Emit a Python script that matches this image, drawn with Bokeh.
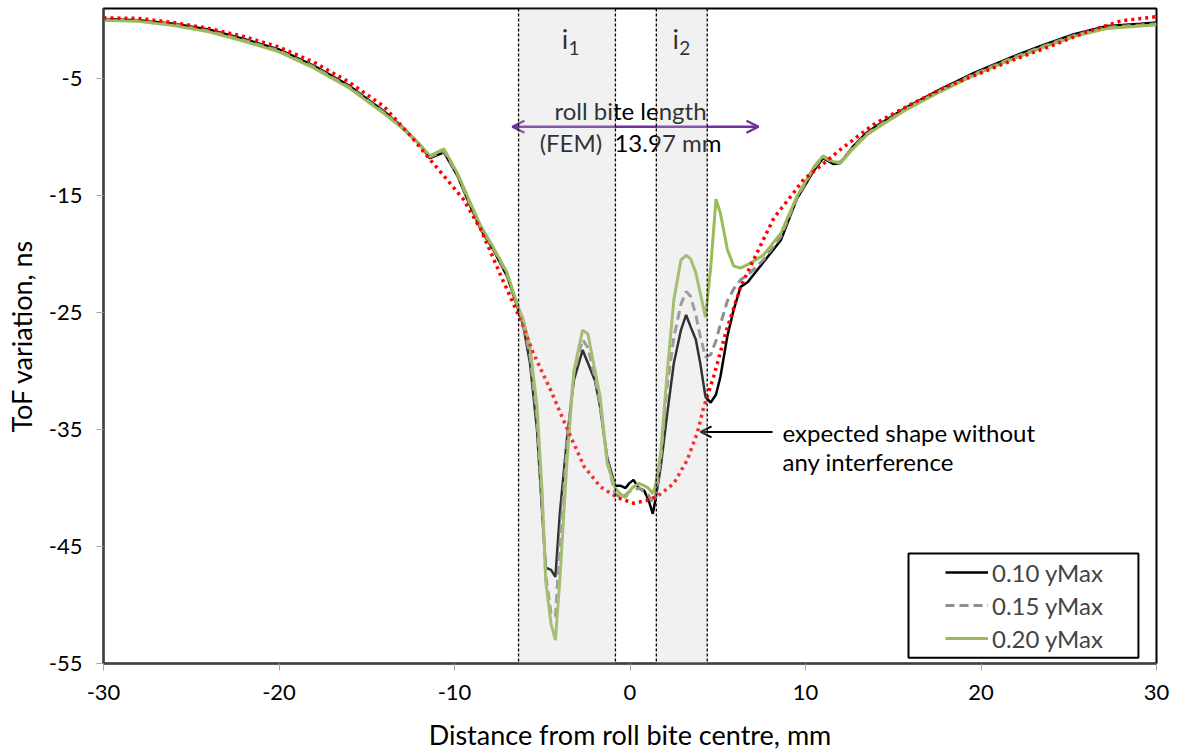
from bokeh.plotting import figure
from bokeh.models import (Span, BoxAnnotation, Arrow, OpenHead, Label, Legend,
                          LegendItem, FixedTicker, Range1d)
from bokeh.embed import file_html
from bokeh.resources import INLINE

# ---- data ----
x_meas = [-30, -28, -26, -24, -22, -20, -18, -16, -14, -13, -12, -11.4, -10.6, -9.8,
          -9.1, -8.5, -7.8, -7.0, -6.4, -6.1, -5.7, -5.3, -5.0, -4.8, -4.5, -4.25, -4.0,
          -3.6, -3.2, -2.7, -2.4, -2.0, -1.7, -1.3, -0.85, -0.55, -0.25, -0.05, 0.2, 0.5,
          0.8, 1.05, 1.3, 1.45, 1.75, 2.1, 2.5, 2.9, 3.2, 3.45, 3.75, 4.0, 4.3, 4.6, 4.9,
          5.15, 5.55, 5.9, 6.3, 6.7, 7.6, 8.6, 9.5, 10.5, 11.0, 11.6, 12.0, 12.7, 13.5,
          14.3, 15.8, 17.7, 19.6, 21.5, 23.4, 25.3, 27.2, 29.1, 30]

tof_010 = [0.1, 0.0, -0.3, -0.8, -1.6, -2.5, -3.9, -5.6, -7.8, -9.1, -10.6, -11.8, -11.3, -13.4,
           -15.9, -17.9, -19.6, -21.9, -24.6, -26.0, -29.3, -35.0, -42.2, -46.8, -47.0, -47.6, -42.2,
           -35.9, -30.8, -28.2, -29.3, -30.8, -33.1, -37.4, -39.8, -39.8, -40.0, -39.6, -39.3, -40.0,
           -40.2, -41.0, -42.2, -41.0, -38.2, -33.9, -29.3, -26.5, -25.2, -26.2, -27.3, -29.3, -32.2, -32.7, -32.0,
           -30.5, -27.0, -24.8, -22.8, -22.4, -20.7, -18.8, -15.3, -12.8, -11.8, -12.3, -12.2, -10.8, -9.6,
           -8.8, -7.4, -5.9, -4.5, -3.3, -2.2, -1.2, -0.5, -0.3, -0.2]

tof_015 = [0.05, -0.05, -0.35, -0.9, -1.7, -2.6, -4.0, -5.7, -7.9, -9.1, -10.6, -11.7, -11.2, -13.3,
           -15.8, -17.8, -19.5, -21.8, -24.5, -25.8, -28.7, -34.0, -41.5, -47.5, -50.7, -51.0, -45.0,
           -36.5, -30.2, -27.3, -28.0, -30.5, -33.0, -37.6, -40.5, -40.8, -40.6, -40.3, -40.2, -40.0,
           -40.3, -40.6, -41.3, -40.8, -37.5, -31.5, -27.1, -24.3, -23.2, -23.6, -25.2, -27.0, -28.8, -28.6, -27.4,
           -26.0, -24.0, -23.0, -22.2, -21.8, -20.5, -18.5, -15.2, -12.6, -11.7, -12.2, -12.1, -10.9, -9.7,
           -8.9, -7.5, -6.0, -4.6, -3.4, -2.3, -1.3, -0.6, -0.4, -0.3]

tof_020 = [0.0, -0.1, -0.45, -1.0, -1.8, -2.7, -4.1, -5.8, -8.0, -9.2, -10.6, -11.6, -11.0, -13.2,
           -15.6, -17.6, -19.4, -21.6, -24.4, -25.5, -27.9, -33.0, -40.5, -48.0, -51.6, -53.0, -47.9,
           -37.9, -30.0, -26.5, -26.8, -29.9, -32.2, -37.9, -40.0, -40.5, -40.8, -40.3, -39.9, -39.6,
           -39.8, -40.0, -40.5, -39.8, -37.0, -30.5, -23.9, -20.5, -20.1, -20.4, -21.6, -23.3, -25.4, -21.1, -15.3,
           -16.5, -19.6, -21.0, -21.2, -20.9, -20.1, -18.2, -15.1, -12.5, -11.6, -12.1, -12.2, -11.0, -9.8,
           -9.0, -7.6, -6.1, -4.7, -3.5, -2.4, -1.4, -0.7, -0.5, -0.4]

x_fem = [-30, -28, -26, -24, -22, -20, -18, -16, -14, -12.5, -11.4, -10.5, -9.5, -8.5, -7.4,
         -6.24, -5.5, -4.53, -3.56, -2.6, -1.68, -0.73, 0.2, 1.15, 1.74, 2.5, 3.26, 3.83, 4.2,
         4.76, 5.5, 6.3, 7.2, 8.2, 9.2, 9.9, 11.0, 12.0, 13.0, 14.0, 16.0, 18.0, 20.0, 22.0,
         24.0, 26.0, 28.0, 30.0]
tof_fem = [0.2, 0.15, -0.2, -0.7, -1.4, -2.3, -3.6, -5.3, -7.4, -9.9, -11.9, -13.5, -15.3, -17.9, -21.7,
           -25.6, -28.5, -31.6, -35.0, -38.2, -39.9, -40.8, -41.3, -41.0, -40.5, -39.6, -37.6, -35.3, -33.1,
           -30.5, -26.5, -22.8, -20.0, -16.9, -15.0, -13.6, -12.3, -11.05, -9.9, -8.8, -7.2, -5.7, -4.5, -3.3,
           -2.2, -1.0, -0.05, 0.3]

series_labels = ["0.10 yMax", "0.15 yMax", "0.20 yMax"]
x_ticks = [-30, -20, -10, 0, 10, 20, 30]
y_ticks = [-55, -45, -35, -25, -15, -5]

band_i1 = (-6.35, -0.83)
band_i2 = (1.5, 4.4)
bite_start, bite_end = -6.7, 7.32

FONT = "Lato"

p = figure(width=1179, height=754, x_range=Range1d(-30, 30), y_range=Range1d(-55, 1),
           output_backend="svg", toolbar_location=None,
           min_border_left=103, min_border_right=23, min_border_top=8, min_border_bottom=91)
p.background_fill_color = "white"
p.border_fill_color = "white"
p.outline_line_color = "black"
p.outline_line_width = 2
p.xgrid.visible = False
p.ygrid.visible = False

for ax in (p.xaxis[0], p.yaxis[0]):
    ax.axis_line_color = "#404040"
    ax.axis_line_width = 2
    ax.major_tick_line_color = "#a6a6a6"
    ax.major_tick_out = 7
    ax.major_tick_in = 0
    ax.minor_tick_line_color = None
    ax.major_label_text_font = FONT
    ax.major_label_text_font_size = "22px"
    ax.major_label_text_color = "black"
    ax.axis_label_text_font = FONT
    ax.axis_label_text_font_size = "27px"
    ax.axis_label_text_font_style = "normal"
    ax.axis_label_text_color = "black"

p.xaxis.ticker = FixedTicker(ticks=x_ticks)
p.yaxis.ticker = FixedTicker(ticks=y_ticks)
p.xaxis.major_label_overrides = {t: str(t) for t in x_ticks}
p.yaxis.major_label_overrides = {t: str(t) for t in y_ticks}
p.xaxis.major_label_standoff = 14
p.yaxis.major_label_standoff = 14
p.xaxis.axis_label = "Distance from roll bite centre, mm"
p.yaxis.axis_label = "ToF variation, ns"
p.xaxis.axis_label_standoff = 15
p.yaxis.axis_label_standoff = 8

r1 = p.line(x_meas, tof_010, line_color="black", line_width=2.5)
r2 = p.line(x_meas, tof_015, line_color="#8f8f8f", line_width=3, line_dash="9 5")
r3 = p.line(x_meas, tof_020, line_color="#9bbb59", line_width=3)
p.line(x_fem, tof_fem, line_color="#ff0000", line_width=3.5, line_dash="3 4")

for lo, hi in (band_i1, band_i2):
    p.add_layout(BoxAnnotation(left=lo, right=hi, fill_color="#c8c8c8", fill_alpha=0.25,
                               line_alpha=0, level="overlay"))
for loc in (band_i1[0], band_i1[1], band_i2[0], band_i2[1]):
    p.add_layout(Span(location=loc, dimension="height", line_color="black",
                      line_width=1.3, line_dash="3 2", level="overlay"))

# roll bite arrow
p.add_layout(Arrow(x_start=bite_start, y_start=-9.11, x_end=bite_end, y_end=-9.11,
                   line_color="#7030a0", line_width=2.5,
                   start=OpenHead(size=12, line_color="#7030a0", line_width=2.5),
                   end=OpenHead(size=12, line_color="#7030a0", line_width=2.5)))

def lab(x, y, t, size="24px", align="center"):
    p.add_layout(Label(x=x, y=y, text=t, text_font=FONT, text_font_size=size,
                       text_align=align, text_baseline="alphabetic", text_color="black"))

lab(0.03, -7.75, "roll bite length")
lab(0.03, -10.45, "(FEM)\u00a0 13.97 mm")
lab(-3.7, -1.6, "i", "27px")
lab(-3.5, -2.4, "1", "19px", "left")
lab(2.6, -1.6, "i", "27px")
lab(2.8, -2.4, "2", "19px", "left")
lab(8.69, -35.25, "expected shape without", "24px", "left")
lab(8.69, -37.75, "any interference", "24px", "left")

p.add_layout(Arrow(x_start=8.12, y_start=-35.2, x_end=4.02, y_end=-35.2,
                   line_color="black", line_width=2,
                   end=OpenHead(size=11, line_color="black", line_width=2)))

# legend
p.add_layout(BoxAnnotation(left=15.87, right=28.97, top=-45.6, bottom=-54.5,
                           fill_alpha=0, line_color="black", line_alpha=1, line_width=2,
                           level="overlay"))
legend = Legend(items=[LegendItem(label=series_labels[0], renderers=[r1]),
                       LegendItem(label=series_labels[1], renderers=[r2]),
                       LegendItem(label=series_labels[2], renderers=[r3])],
                location=(837, 5), label_text_font=FONT, label_text_font_size="24px",
                glyph_width=43, glyph_height=30, label_height=30, spacing=3, padding=5,
                label_standoff=4, border_line_alpha=0, background_fill_alpha=0, margin=0)
p.add_layout(legend)

open("out.html", "w").write(file_html(p, INLINE))
